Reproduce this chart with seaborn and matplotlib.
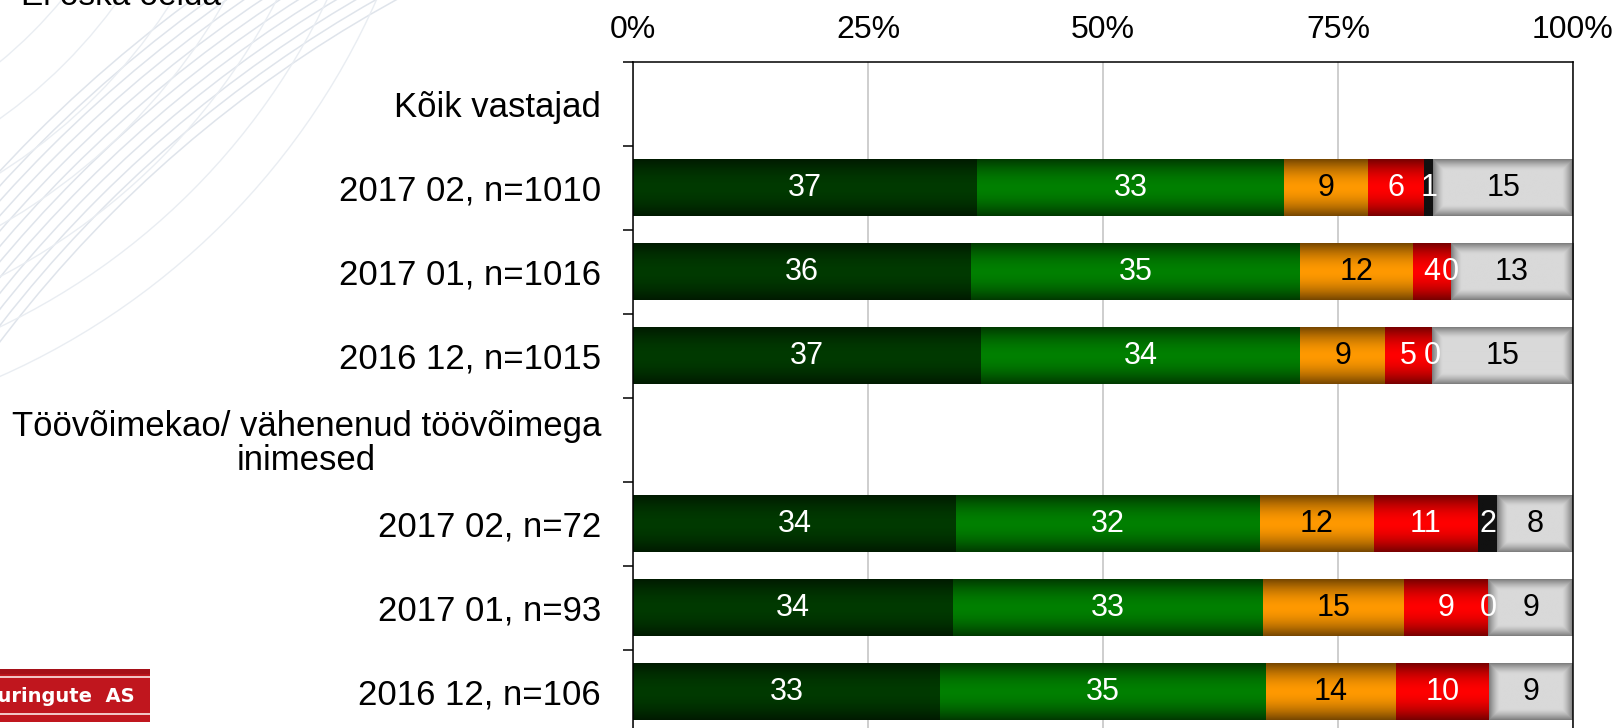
import numpy as np
import pandas as pd
import matplotlib
matplotlib.use("Agg")
import matplotlib.pyplot as plt
import seaborn as sns
from matplotlib.patches import Rectangle, Arc
from matplotlib.colors import to_rgb

# ---- data -------------------------------------------------------------
rows = [
    "Kõik vastajad",
    "2017 02, n=1010",
    "2017 01, n=1016",
    "2016 12, n=1015",
    "Töövõimekao/ vähenenud töövõimega\ninimesed",
    "2017 02, n=72",
    "2017 01, n=93",
    "2016 12, n=106",
]
tick_pct = [0, 25, 50, 75, 100]
tick_labels = ["0%", "25%", "50%", "75%", "100%"]

# answer shares per row (header rows carry no values)
dark_green = [np.nan, 37, 36, 37, np.nan, 34, 34, 33]
green      = [np.nan, 33, 35, 34, np.nan, 32, 33, 35]
orange     = [np.nan,  9, 12,  9, np.nan, 12, 15, 14]
red        = [np.nan,  6,  4,  5, np.nan, 11,  9, 10]
black      = [np.nan,  1,  0,  0, np.nan,  2,  0, np.nan]
ei_oska    = [np.nan, 15, 13, 15, np.nan,  8,  9,  9]
last_legend_label = "Ei oska öelda"

# (values, bright colour, edge colour, label colour, fill style)
series = [
    (dark_green, "#003a00", "#001a00", "white", "v"),
    (green,      "#008000", "#003a00", "white", "v"),
    (orange,     "#ff9900", "#774700", "black", "v"),
    (red,        "#ff0000", "#780000", "white", "v"),
    (black,      "#111111", "#111111", "white", "flat"),
    (ei_oska,    "#d9d9d9", "#7a7a7a", "black", "box"),
]

FONT = "Liberation Sans"
W, H, DPI = 1616, 728, 100

sns.set_theme(style="white")
plt.rcParams["font.family"] = [FONT, "DejaVu Sans"]

fig = plt.figure(figsize=(W / DPI, H / DPI), dpi=DPI)
fig.patch.set_facecolor("white")

# ---- faint background swirl ------------------------------------------
bg = fig.add_axes([0, 0, 1, 1], zorder=-5)
bg.set_xlim(0, W)
bg.set_ylim(H, 0)
bg.axis("off")
for r in np.arange(1255, 1375, 10):
    bg.add_patch(Arc((1000, 1100), 2 * r, 2 * r, theta1=180, theta2=270,
                     color="#dfe4eb", lw=1.1, transform=bg.transData))
for r in np.arange(470, 780, 45):
    bg.add_patch(Arc((-300, -300), 2 * r, 2 * r, theta1=0, theta2=90,
                     color="#e9edf2", lw=1.0, transform=bg.transData))

# ---- main axes --------------------------------------------------------
ax_left, ax_top, ax_w, row_px = 633, 61.5, 940, 84
ax_h = row_px * len(rows)
ax = fig.add_axes([ax_left / W, 1 - (ax_top + ax_h) / H, ax_w / W, ax_h / H])

vals = np.array([s[0] for s in series], dtype=float)
totals = np.nansum(vals, axis=0)
totals[totals == 0] = 1.0

bar_h = 0.667
left = np.zeros(len(rows))


def fill_image(kind, mid, edge, wpx, hpx):
    mid, edge = np.array(to_rgb(mid)), np.array(to_rgb(edge))
    if kind == "v":
        t = np.linspace(-1, 1, 64)
        wgt = np.abs(t) ** 1.8
        col = (1 - wgt)[:, None] * mid + wgt[:, None] * edge
        return np.repeat(col[:, None, :], 2, axis=1)
    if kind == "box":
        nx, ny = max(int(wpx), 2), max(int(hpx), 2)
        xs = np.minimum(np.arange(nx) + 0.5, nx - np.arange(nx) - 0.5)
        ys = np.minimum(np.arange(ny) + 0.5, ny - np.arange(ny) - 0.5)
        d = np.minimum(ys[:, None], xs[None, :])
        wgt = np.clip(1 - d / 11.0, 0, 1) ** 1.4
        return (1 - wgt)[..., None] * mid + wgt[..., None] * edge
    return np.tile(mid, (2, 2, 1))


for values, mid, edge, txtc, kind in series:
    v = np.array(values, dtype=float)
    width = np.nan_to_num(v) / totals * 100
    df = pd.DataFrame({"row": rows, "pct": width})
    n0 = len(ax.patches)
    sns.barplot(data=df, x="pct", y="row", order=rows, orient="y",
                color=mid, saturation=1, width=bar_h, left=left.copy(),
                errorbar=None, linewidth=0, ax=ax)
    for p in ax.patches[n0:]:
        x0, y0, pw, ph = p.get_x(), p.get_y(), p.get_width(), p.get_height()
        if pw <= 0:
            continue
        img = fill_image(kind, mid, edge, pw / 100 * ax_w, abs(ph) * row_px)
        ax.imshow(img, extent=(x0, x0 + pw, y0 + ph, y0), aspect="auto",
                  interpolation="bilinear", zorder=1.5)
    for i, val in enumerate(v):
        if np.isnan(val):
            continue
        ax.text(left[i] + width[i] / 2, i, f"{int(val)}", ha="center",
                va="center", color=txtc, fontsize=22, zorder=3)
    left += width

ax.set_xlim(0, 100)
ax.set_ylim(len(rows) - 0.5, -0.5)
ax.set_xlabel("")
ax.set_ylabel("")

# x axis on top
ax.xaxis.tick_top()
ax.set_xticks(tick_pct)
ax.set_xticklabels(tick_labels)
ax.tick_params(axis="x", which="both", length=0, pad=12, labelsize=23,
               labelcolor="black")
ax.xaxis.grid(True, color="#c6c6c6", lw=1.2)
ax.yaxis.grid(False)
ax.set_axisbelow(True)

# y axis: labels and boundary ticks
ax.set_yticks(range(len(rows)))
ax.set_yticklabels(rows)
ax.set_yticks(np.arange(-0.5, len(rows), 1), minor=True)
ax.tick_params(axis="y", which="major", length=0, pad=23, labelsize=25,
               labelcolor="black")
ax.tick_params(axis="y", which="minor", left=True, length=7.5, width=1.1,
               color="black", direction="out")
for lbl in ax.get_yticklabels():
    if "\n" in lbl.get_text():
        lbl.set_multialignment("center")
        lbl.set_linespacing(1.05)

for side in ["left", "top", "right"]:
    ax.spines[side].set_visible(True)
    ax.spines[side].set_color("black")
    ax.spines[side].set_linewidth(1.1)
ax.spines["bottom"].set_visible(False)
ax.set_facecolor("white")

# legend entry peeking in at the top edge
fig.text(21 / W, 1 - 5 / H, last_legend_label, ha="left", va="baseline",
         fontsize=24, color="black")

# company badge in the lower-left corner
badge = fig.add_axes([0, 1 - 722 / H, 150 / W, 53 / H])
badge.set_xlim(0, 150)
badge.set_ylim(53, 0)
badge.axis("off")
badge.add_patch(Rectangle((0, 0), 150, 53, color="#c0161e"))
badge.add_patch(Rectangle((0, 0), 150, 4, color="#a51018"))
badge.plot([0, 150], [8, 8], color="#f3c9c9", lw=1.4)
badge.plot([0, 150], [45, 45], color="#f3c9c9", lw=1.4)
badge.text(135, 27, "Turu-uuringute  AS", ha="right", va="center",
           fontsize=14, fontweight="bold", color="white",
           family=["DejaVu Sans"], clip_on=True)

fig.savefig("out.png", dpi=DPI, facecolor="white")
